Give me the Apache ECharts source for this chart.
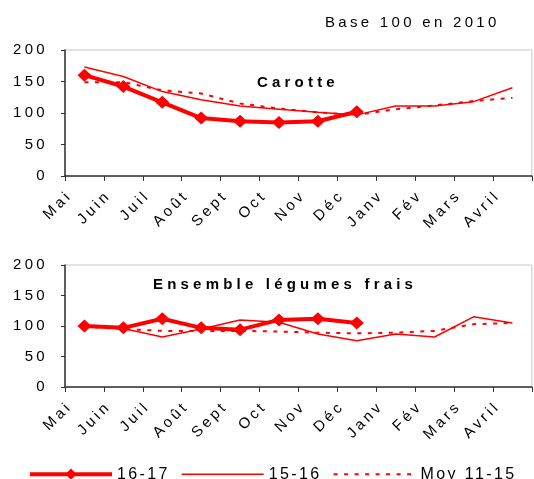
<!DOCTYPE html>
<html>
<head>
<meta charset="utf-8">
<script src="https://cdn.jsdelivr.net/npm/echarts@6/dist/echarts.min.js"></script>
<style>
html,body{margin:0;padding:0;background:#fff;}
#chart{width:534px;height:479px;}
</style>
</head>
<body>
<div id="chart"></div>
<script>
// ---- data ----
const months = ['Mai','Juin','Juil','Août','Sept','Oct','Nov','Déc','Janv','Fév','Mars','Avril'];
const tickLabels = months.concat(['']);
const seriesNames = ['16-17','15-16','Moy 11-15'];
const carotte1617 = [160, 142, 117, 92, 87, 85, 87, 102];
const carotte1516 = [173, 158, 134, 121, 111, 106, 101, 97, 111, 111, 118, 140];
const carotteMoy  = [149, 149, 136, 131, 115, 107, 101, 97, 106, 112, 119, 124];
const legumes1617 = [100, 97, 112, 97, 94, 110, 112, 105];
const legumes1516 = [100, 96, 82, 95, 110, 106, 87, 76, 87, 82, 115, 105];
const legumesMoy  = [99, 95, 92, 92, 92, 91, 89, 88, 89, 92, 103, 105];
const titleBase = 'Base 100 en 2010';
const titleTop = 'Carotte';
const titleBottom = 'Ensemble légumes frais';

// ---- wide letter spacing like the original export ----
(function(){
  const P = CanvasRenderingContext2D.prototype;
  if (!('letterSpacing' in P)) return;
  const sp = f => {
    if (/bold/.test(f)) return '4.2px';
    const m = /(\d+(?:\.\d+)?)px/.exec(f);
    const s = m ? +m[1] : 12;
    return s === 16 ? '2.4px' : s === 15 ? '3.3px' : '0px';
  };
  const ft = P.fillText, st = P.strokeText, mt = P.measureText;
  P.fillText = function(t,x,y,w){ this.letterSpacing = sp(this.font); return w === undefined ? ft.call(this,t,x,y) : ft.call(this,t,x,y,w); };
  P.strokeText = function(t,x,y,w){ this.letterSpacing = sp(this.font); return w === undefined ? st.call(this,t,x,y) : st.call(this,t,x,y,w); };
  P.measureText = function(t){ this.letterSpacing = sp(this.font); return mt.call(this,t); };
})();

const RED = '#ff0000';
const FONT = 'Liberation Sans';
const AXIS_COLOR = '#333';

function gridDef(top, height){
  return {left:65, top:top, width:467, height:height, show:true, borderColor:'#c8c8c8', borderWidth:1, backgroundColor:'transparent'};
}
function dataX(gi){
  return {type:'category', gridIndex:gi, data:months, boundaryGap:true, position:'bottom',
    axisLine:{show:true, lineStyle:{color:AXIS_COLOR, width:1.5}},
    axisTick:{show:true, length:5, inside:false, lineStyle:{color:AXIS_COLOR}},
    axisLabel:{show:false}, splitLine:{show:false}};
}
function labelX(gi){
  return {type:'category', gridIndex:gi, data:tickLabels, boundaryGap:false, position:'bottom',
    axisLine:{show:false}, axisTick:{show:false}, splitLine:{show:false},
    axisLabel:{show:true, interval:0, rotate:45, margin:22, padding:[0,-7,0,0], fontFamily:FONT, fontSize:15, color:'#000'}};
}
function yDef(gi){
  return {type:'value', gridIndex:gi, min:0, max:200, interval:50,
    axisLine:{show:true, lineStyle:{color:AXIS_COLOR, width:1.5}},
    axisTick:{show:true, length:4, lineStyle:{color:AXIS_COLOR}},
    axisLabel:{margin:17, fontFamily:FONT, fontSize:15, color:'#000'},
    splitLine:{show:false}};
}
function thin(name, data, xi, yi){
  return {name:name, type:'line', xAxisIndex:xi, yAxisIndex:yi, data:data, symbol:'none', showSymbol:false,
    lineStyle:{color:RED, width:1.5}, itemStyle:{color:RED}, z:2};
}
function dotted(name, data, xi, yi){
  return {name:name, type:'line', xAxisIndex:xi, yAxisIndex:yi, data:data, symbol:'none', showSymbol:false,
    lineStyle:{color:RED, width:2, type:[4,6.5]}, itemStyle:{color:RED}, z:2};
}
function thick(name, data, xi, yi){
  return {name:name, type:'line', xAxisIndex:xi, yAxisIndex:yi, data:data, symbol:'diamond', symbolSize:[14,13],
    lineStyle:{color:RED, width:4}, itemStyle:{color:RED}, z:3};
}

const chart = echarts.init(document.getElementById('chart'), null, {renderer:'canvas'});
chart.setOption({
  animation:false,
  backgroundColor:'#fff',
  title:[
    {text:titleBase, left:325, top:14, padding:0, textStyle:{fontFamily:FONT, fontSize:15, fontWeight:'normal', color:'#000'}},
    {text:titleTop, left:257, top:73, padding:0, textStyle:{fontFamily:FONT, fontSize:15, fontWeight:'bold', color:'#000'}},
    {text:titleBottom, left:153, top:275, padding:0, textStyle:{fontFamily:FONT, fontSize:15, fontWeight:'bold', color:'#000'}}
  ],
  legend:{
    data:[
      {name:seriesNames[0], lineStyle:{width:4}},
      {name:seriesNames[1], lineStyle:{width:1.5}, itemStyle:{opacity:0}},
      {name:seriesNames[2], lineStyle:{width:2, type:[4,6.5]}, itemStyle:{opacity:0}}
    ],
    left:28, top:465, itemWidth:82, itemHeight:14, itemGap:11, padding:0,
    textStyle:{fontFamily:FONT, fontSize:16, color:'#000'}
  },
  grid:[gridDef(50,126), gridDef(265,122)],
  xAxis:[dataX(0), labelX(0), dataX(1), labelX(1)],
  yAxis:[yDef(0), yDef(1)],
  series:[
    thin(seriesNames[1], carotte1516, 0, 0),
    dotted(seriesNames[2], carotteMoy, 0, 0),
    thick(seriesNames[0], carotte1617, 0, 0),
    thin(seriesNames[1], legumes1516, 2, 1),
    dotted(seriesNames[2], legumesMoy, 2, 1),
    thick(seriesNames[0], legumes1617, 2, 1)
  ]
});
</script>
</body>
</html>
